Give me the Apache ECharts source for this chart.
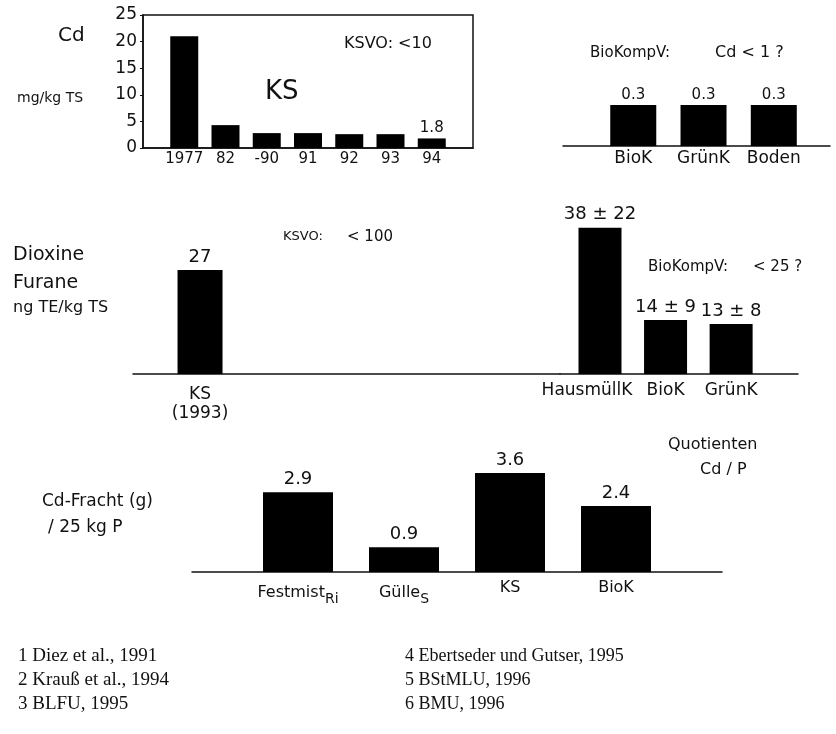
<!DOCTYPE html>
<html><head><meta charset="utf-8">
<script src="https://cdn.jsdelivr.net/npm/echarts@6/dist/echarts.min.js"></script>
<style>html,body{margin:0;padding:0;background:#fff}#c{width:836px;height:734px}</style>
</head><body><div id="c"></div>
<script>
// ---- data ----
const ksYears = ['1977', '82', '-90', '91', '92', '93', '94'];
const ksCd = [21, 4.3, 2.8, 2.8, 2.6, 2.6, 1.8];
const ksCdLabels = ['', '', '', '', '', '', '1.8'];
const cdTicks = [0, 5, 10, 15, 20, 25];

const kompCats = ['BioK', 'GrünK', 'Boden'];
const kompCd = [0.3, 0.3, 0.3];
const kompCdLabels = ['0.3', '0.3', '0.3'];

const dioxLeftCats = ['KS\n(1993)'];
const dioxLeftVals = [27];
const dioxLeftLabels = ['27'];
const dioxRightCats = ['HausmüllK', 'BioK', 'GrünK'];
const dioxRightVals = [38, 14, 13];
const dioxRightLabels = ['38 ± 22', '14 ± 9', '13 ± 8'];

const frachtCats = ['Festmist', 'Gülle', 'KS', 'BioK'];
const frachtSubs = ['Ri', 'S', '', ''];
const frachtVals = [2.9, 0.9, 3.6, 2.4];
const frachtLabels = ['2.9', '0.9', '3.6', '2.4'];

const refsLeft = ['1 Diez et al., 1991', '2 Krauß et al., 1994', '3 BLFU, 1995'];
const refsRight = ['4 Ebertseder und Gutser, 1995', '5 BStMLU, 1996', '6 BMU, 1996'];

// ---- chart ----
const SANS = 'DejaVu Sans, Verdana, sans-serif';
const SERIF = 'Liberation Serif, Times New Roman, serif';
const INK = '#111';
const chart = echarts.init(document.getElementById('c'), null, {renderer: 'canvas'});

const idx = arr => arr.map((_, i) => i);
const pts = (vals, labels) => vals.map((v, i) => ({
  value: [i, v],
  label: {show: !!labels[i], formatter: labels[i]}
}));

function catX(gridIndex, cats, min, max, fontSize, margin, extra) {
  return Object.assign({
    type: 'value', gridIndex, min, max,
    axisLine: {show: true, onZero: false, lineStyle: {color: INK, width: 1.5}},
    axisTick: {show: false},
    splitLine: {show: false},
    axisLabel: {
      customValues: idx(cats), margin, color: INK, fontFamily: SANS, fontSize,
      hideOverlap: false, showMinLabel: true, showMaxLabel: true,
      formatter: v => cats[Math.round(v)] ?? ''
    }
  }, extra || {});
}
function hiddenY(gridIndex, max) {
  return {type: 'value', gridIndex, min: 0, max, show: false, splitLine: {show: false}};
}
function barSeries(xi, vals, labels, width, fs, dist) {
  return {
    type: 'bar', xAxisIndex: xi, yAxisIndex: xi, barWidth: width,
    data: pts(vals, labels),
    itemStyle: {color: '#000'},
    label: {position: 'top', distance: dist, color: INK, fontFamily: SANS, fontSize: fs},
    silent: true, animation: false
  };
}

const graphics = [];
function txt(x, y, s, fs, font, extra) {
  graphics.push({type: 'text', x, y, style: Object.assign({
    text: s, fill: INK, fontFamily: font || SANS, fontSize: fs, textVerticalAlign: 'middle'
  }, extra || {})});
}
txt(58, 36, 'Cd', 20);
txt(17, 98, 'mg/kg TS', 14);
txt(265, 92, 'KS', 26);
txt(344, 44, 'KSVO: <10', 16);
txt(590, 53, 'BioKompV:', 15);
txt(715, 53, 'Cd < 1 ?', 16);
txt(13, 255, 'Dioxine', 19);
txt(13, 283, 'Furane', 19);
txt(13, 308, 'ng TE/kg TS', 16);
txt(283, 237, 'KSVO:', 13);
txt(347, 237, '< 100', 15);
txt(648, 267, 'BioKompV:', 15);
txt(753, 267, '< 25 ?', 15);
txt(668, 445, 'Quotienten', 16);
txt(700, 470, 'Cd / P', 16);
txt(42, 502, 'Cd-Fracht (g)', 17);
txt(48, 528, '/ 25 kg P', 17);
refsLeft.forEach((s, i) => txt(18, 656 + i * 24, s, 19, SERIF));
refsRight.forEach((s, i) => txt(405, 656 + i * 24, s, 18, SERIF));

const option = {
  backgroundColor: '#fff',
  animation: false,
  grid: [
    {left: 143, top: 15, width: 330, height: 133, show: true, borderColor: INK, borderWidth: 1.5, backgroundColor: 'transparent'},
    {left: 563, top: 9, width: 267, height: 137},
    {left: 133, top: 220, width: 427, height: 154},
    {left: 560, top: 220, width: 238, height: 154},
    {left: 192, top: 462, width: 530, height: 110}
  ],
  xAxis: [
    catX(0, ksYears, -1, 7, 15, 4),
    catX(1, kompCats, -1, 2.8, 17, 4),
    catX(2, dioxLeftCats, -1, 5.37, 17, 11, {axisLabel: {
      customValues: [0], margin: 11, color: INK, fontFamily: SANS, fontSize: 17, lineHeight: 19,
      formatter: v => dioxLeftCats[Math.round(v)] ?? ''}}),
    catX(3, dioxRightCats, -0.61, 3.02, 17, 8, {axisLabel: {
      customValues: idx(dioxRightCats), margin: 8, color: INK, fontFamily: SANS, fontSize: 17,
      hideOverlap: false,
      formatter: v => { const i = Math.round(v); return (i === 0 ? '{h|' : '{c|') + dioxRightCats[i] + '}'; },
      rich: {h: {fontSize: 17, fontFamily: SANS, color: INK, padding: [0, 26, 0, 0]}, c: {fontSize: 17, fontFamily: SANS, color: INK}}
    }}),
    catX(4, frachtCats, -1, 4, 16, 8, {axisLabel: {
      customValues: idx(frachtCats), margin: 8, color: INK, fontFamily: SANS,
      formatter: v => { const i = Math.round(v); return '{n|' + frachtCats[i] + '}' + (frachtSubs[i] ? '{s|' + frachtSubs[i] + '}' : ''); },
      rich: {n: {fontSize: 16, fontFamily: SANS, color: INK}, s: {fontSize: 14, fontFamily: SANS, color: INK, padding: [12, 0, 0, 0]}}
    }})
  ],
  yAxis: [
    {type: 'value', gridIndex: 0, min: cdTicks[0], max: cdTicks[cdTicks.length - 1], interval: cdTicks[1] - cdTicks[0],
     axisLine: {show: true, onZero: false, lineStyle: {color: INK, width: 1.5}},
     axisTick: {show: true, length: 3, lineStyle: {color: INK}},
     splitLine: {show: false},
     axisLabel: {color: INK, fontFamily: SANS, fontSize: 17, margin: 6}},
    hiddenY(1, 1),
    hiddenY(2, 40),
    hiddenY(3, 40),
    hiddenY(4, 4)
  ],
  series: [
    barSeries(0, ksCd, ksCdLabels, 28, 15, 3),
    barSeries(1, kompCd, kompCdLabels, 46, 15, 2),
    barSeries(2, dioxLeftVals, dioxLeftLabels, 45, 18, 4),
    barSeries(3, dioxRightVals, dioxRightLabels, 43, 18, 4),
    barSeries(4, frachtVals, frachtLabels, 70, 18, 4)
  ],
  graphic: graphics
};
chart.setOption(option);
</script>
</body></html>
